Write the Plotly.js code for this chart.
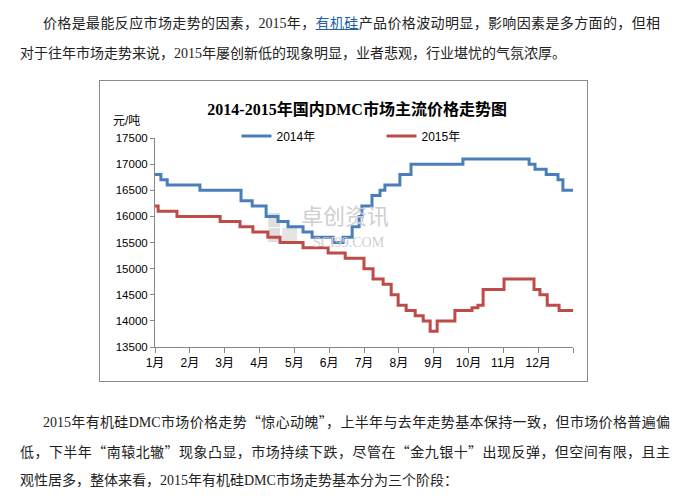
<!DOCTYPE html>
<html>
<head>
<meta charset="utf-8">
<script src="https://cdn.plot.ly/plotly-3.0.1.min.js"></script>
<style>
  html, body { margin:0; padding:0; background:#fff; }
  body { width:687px; height:499px; position:relative; overflow:hidden; }
  .ln { position:absolute; white-space:nowrap; font-family:"Liberation Serif","Noto Sans CJK SC",serif; font-size:14px; color:#222; line-height:18px; }
  .ln.j { text-align:justify; text-align-last:justify; }
  .ln .cjk { font-family:"Noto Sans CJK SC",sans-serif; }
  a { color:#2060a8; text-decoration:underline; }
  #chart { position:absolute; left:99px; top:80px; width:487px; height:300px; border:1.5px solid #8a8a8a; }
</style>
</head>
<body>
<div class="ln j" style="left:43px; top:15px; width:617px;">价格是最能反应市场走势的因素，2015年，<a>有机硅</a>产品价格波动明显，影响因素是多方面的，但相</div>
<div class="ln" style="left:20px; top:45px;">对于往年市场走势来说，2015年屡创新低的现象明显，业者悲观，行业堪忧的气氛浓厚。</div>

<div id="chart"></div>

<div class="ln j" style="left:43px; top:412px; width:627px;">2015年有机硅DMC市场价格走势<span class="cjk">“惊心动魄”</span>，上半年与去年走势基本保持一致，但市场价格普遍偏</div>
<div class="ln j" style="left:20px; top:442px; width:650px;">低，下半年<span class="cjk">“南辕北辙”</span>现象凸显，市场持续下跌，尽管在<span class="cjk">“金九银十”</span>出现反弹，但空间有限，且主</div>
<div class="ln" style="left:20px; top:472px;">观性居多，整体来看，2015年有机硅DMC市场走势基本分为三个阶段：</div>

<script>
// Month positions (1 = start of January, 13 = end of December)
const tickVals = [1,2,3,4,5,6,7,8,9,10,11,12,13];
const tickLabels = ['1月','2月','3月','4月','5月','6月','7月','8月','9月','10月','11月','12月',''];

// 2014 price (元/吨) at change points
const months2014 = [1.00,1.17,1.35,2.29,3.47,3.79,4.19,4.53,4.82,5.25,5.51,6.11,6.40,6.66,6.86,6.94,7.23,7.46,7.60,8.03,8.35,9.84,11.74,11.91,12.23,12.57,12.71,13.00];
const price2014  = [16800,16700,16600,16500,16300,16200,16000,15900,15800,15700,15600,15500,15600,15800,16000,16200,16400,16500,16600,16800,17000,17100,17000,16900,16800,16700,16500,16500];

// 2015 price (元/吨) at change points
const months2015 = [1.00,1.09,1.63,2.87,3.44,3.81,4.24,4.59,5.25,5.97,6.46,7.00,7.26,7.55,7.78,7.98,8.21,8.47,8.70,8.90,9.10,9.61,10.10,10.27,10.42,11.02,11.88,12.05,12.26,12.60,13.00];
const price2015  = [16200,16100,16000,15900,15800,15700,15600,15500,15400,15300,15200,15000,14800,14700,14500,14300,14200,14100,14000,13800,14000,14200,14250,14300,14600,14800,14600,14500,14300,14200,14200];

const seriesNames = ['2014年','2015年'];

const sans = 'Liberation Sans, Noto Sans CJK SC, sans-serif';

const traces = [
  { x: months2014, y: price2014, name: seriesNames[0], type:'scatter', mode:'lines',
    line:{ color:'#4a7ebb', width:3, shape:'hv' } },
  { x: months2015, y: price2015, name: seriesNames[1], type:'scatter', mode:'lines',
    line:{ color:'#be4b48', width:3, shape:'hv' } }
];

const layout = {
  width:487, height:300,
  margin:{ l:55, r:14, t:57, b:34 },
  paper_bgcolor:'#fff', plot_bgcolor:'#fff',
  showlegend:true,
  title:{ text:'2014-2015年国内DMC市场主流价格走势图', xref:'container', yref:'container',
          x:0.528, y:0.905, xanchor:'center', yanchor:'middle',
          font:{ family:'Liberation Serif, Noto Sans CJK SC, serif', size:16, weight:'bold', color:'#000' } },
  xaxis:{ range:[1,13], tickvals:tickVals, ticktext:tickLabels, showgrid:false, zeroline:false,
          showline:true, linecolor:'#868686', linewidth:1, ticks:'outside', ticklen:5, tickcolor:'#868686',
          tickfont:{ family:sans, size:12, color:'#000' }, fixedrange:true },
  yaxis:{ range:[13500,17500], dtick:500, tick0:13500, showgrid:false, zeroline:false,
          showline:true, linecolor:'#868686', linewidth:1, ticks:'outside', ticklen:4, tickcolor:'#868686',
          tickfont:{ family:sans, size:11.5, color:'#000' }, tickformat:'d', fixedrange:true },
  legend:{ orientation:'h', x:0.195, xanchor:'left', y:1.01, yanchor:'middle',
           font:{ family:sans, size:12, color:'#000' }, bgcolor:'rgba(0,0,0,0)',
           entrywidth:100, entrywidthmode:'pixels', traceorder:'normal' },
  annotations:[
    { text:'元/吨', xref:'paper', yref:'paper', x:-0.067, y:1.082, xanchor:'center', yanchor:'middle', showarrow:false,
      font:{ family:sans, size:12, color:'#000' } },
    { text:'卓创资讯', xref:'paper', yref:'paper', x:0.455, y:0.635, showarrow:false,
      font:{ family:'Noto Sans CJK SC, sans-serif', size:22, color:'#cfcfcf' } },
    { text:'SCI99.COM', xref:'paper', yref:'paper', x:0.465, y:0.5, showarrow:false,
      font:{ family:'Liberation Serif, serif', size:14, color:'#d0d0d0' } }
  ],
  shapes:[
    { type:'rect', xref:'paper', yref:'paper', x0:0.271, x1:0.299, y0:0.574, y1:0.641, fillcolor:'#dedede', line:{width:0}, layer:'below' },
    { type:'rect', xref:'paper', yref:'paper', x0:0.271, x1:0.299, y0:0.502, y1:0.569, fillcolor:'#dedede', line:{width:0}, layer:'below' },
    { type:'rect', xref:'paper', yref:'paper', x0:0.304, x1:0.34, y0:0.502, y1:0.569, fillcolor:'#e4e4e4', line:{width:0}, layer:'below' }
  ]
};

Plotly.newPlot('chart', traces, layout, { staticPlot:true, displayModeBar:false });
</script>
</body>
</html>
